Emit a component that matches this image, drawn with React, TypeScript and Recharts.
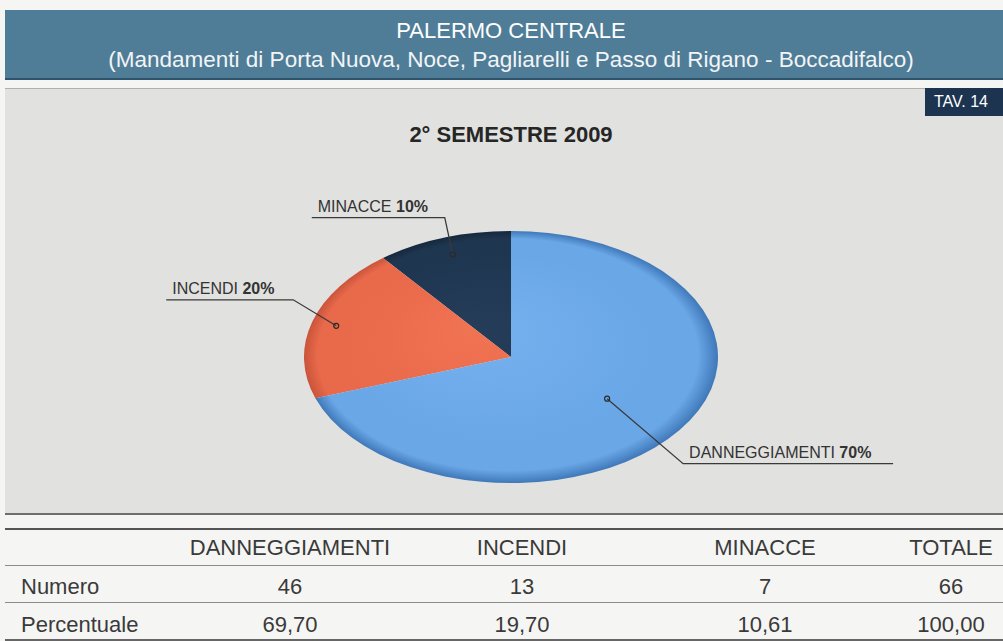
import { PieChart, Pie, Cell } from 'recharts'

const categories = ['MINACCE', 'INCENDI', 'DANNEGGIAMENTI']
const shares = [10.61, 19.7, 69.7]
const labelPercents = [10, 20, 70]

const tableColumns = ['DANNEGGIAMENTI', 'INCENDI', 'MINACCE', 'TOTALE']
const numero = ['46', '13', '7', '66']
const percentuale = ['69,70', '19,70', '10,61', '100,00']

// slice shading: inner, body, rim
const sliceShades = [
  ['#253d59', '#1f3651', '#15283d'],
  ['#f07352', '#e9694b', '#c9543a'],
  ['#76b1ef', '#6aa7e7', '#3f78b8'],
]

const CX = 511
const CY = 357
const RX = 207
const RY = 126
const K = RY / RX

// label layout per slice: dot depth, elbow offset from dot, underline length
const dotDepth = [0.86, 0.88, 0.57]
const elbowOffset = [[-8, -37], [-43, -26], [76, 65]]
const underlineLen = [-133, -127, 210]

const colCenters = [290, 522, 765, 951]
const rowCenters = [548, 587, 625]

const pieData = categories.map((name, i) => ({ name, value: shares[i] }))

function renderLabel(props: any) {
  const { cx, cy, midAngle, outerRadius, index } = props
  const a = (-midAngle * Math.PI) / 180
  const r = outerRadius * dotDepth[index]
  const dx = cx + r * Math.cos(a)
  const dy = cy + r * K * Math.sin(a)
  const ex = dx + elbowOffset[index][0]
  const ey = dy + elbowOffset[index][1]
  const lx = ex + underlineLen[index]
  const textX = Math.min(ex, lx) + 6
  return (
    <g>
      <polyline points={`${dx},${dy} ${ex},${ey} ${lx},${ey}`} fill="none" stroke="#3a3a3a" strokeWidth={1.3} />
      <circle cx={dx} cy={dy} r={2.5} fill="none" stroke="#2a2a2a" strokeWidth={1.2} />
      <text x={textX} y={ey - 6} fontSize={16} fill="#333" fontFamily="'Liberation Sans', Arial, sans-serif">
        {categories[index]} <tspan fontWeight="bold">{labelPercents[index]}%</tspan>
      </text>
    </g>
  )
}

const cellText = (text: string, cx: number, cy: number, key: string, align: 'center' | 'left' = 'center') => (
  <div
    key={key}
    style={{
      position: 'absolute',
      top: cy - 14,
      height: 28,
      lineHeight: '28px',
      left: align === 'center' ? cx - 150 : cx,
      width: align === 'center' ? 300 : 200,
      textAlign: align,
      fontSize: 22,
      color: '#3a3a3a',
    }}
  >
    {text}
  </div>
)

export default function App() {
  return (
    <div
      style={{
        position: 'absolute',
        left: 0,
        top: 0,
        width: 1003,
        height: 641,
        overflow: 'hidden',
        background: '#f5f5f3',
        fontFamily: "'Liberation Sans', Arial, sans-serif",
      }}
    >
      <style>{`.ellipse-pie .recharts-sector { transform-box: view-box; transform-origin: ${CX}px ${CY}px; transform: scaleY(${K}); }`}</style>

      {/* header band */}
      <div style={{ position: 'absolute', left: 5, top: 10, width: 998, height: 68, background: '#4f7d98', borderBottom: '2px solid #2e536c' }} />
      <div style={{ position: 'absolute', left: 0, width: 1022, top: 18, textAlign: 'center', color: '#fff', fontSize: 22 }}>
        PALERMO CENTRALE
      </div>
      <div style={{ position: 'absolute', left: 0, width: 1022, top: 47, textAlign: 'center', color: '#f2f4f6', fontSize: 22.5 }}>
        (Mandamenti di Porta Nuova, Noce, Pagliarelli e Passo di Rigano - Boccadifalco)
      </div>

      {/* chart panel */}
      <div style={{ position: 'absolute', left: 5, top: 88, width: 998, height: 424, background: '#e1e1df', borderTop: '1px solid #b0b0ae', borderBottom: '2px solid #6e6e6e' }} />
      <div style={{ position: 'absolute', left: 925, top: 88, width: 78, height: 28, background: '#1c3450', color: '#fff', fontSize: 16, lineHeight: '28px', paddingLeft: 9, boxSizing: 'border-box' }}>
        TAV. 14
      </div>
      <div style={{ position: 'absolute', left: 0, width: 1022, top: 122, textAlign: 'center', color: '#262626', fontSize: 22, fontWeight: 'bold' }}>
        2° SEMESTRE 2009
      </div>

      <div className="ellipse-pie" style={{ position: 'absolute', left: 0, top: 0 }}>
        <PieChart width={1003} height={641} margin={{ top: 0, right: 0, bottom: 0, left: 0 }}>
          <defs>
            {sliceShades.map((s, i) => (
              <radialGradient key={i} id={`slice${i}`} gradientUnits="userSpaceOnUse" cx={CX} cy={CY} r={RX} fx={CX - 40} fy={CY - 50}>
                <stop offset="0%" stopColor={s[0]} />
                <stop offset="75%" stopColor={s[1]} />
                <stop offset="92%" stopColor={s[1]} />
                <stop offset="100%" stopColor={s[2]} />
              </radialGradient>
            ))}
          </defs>
          <Pie
            data={pieData}
            dataKey="value"
            nameKey="name"
            cx={CX}
            cy={CY}
            outerRadius={RX}
            startAngle={90}
            endAngle={450}
            stroke="none"
            label={renderLabel}
            labelLine={false}
            isAnimationActive={false}
          >
            {pieData.map((_, i) => (
              <Cell key={i} fill={`url(#slice${i})`} />
            ))}
          </Pie>
        </PieChart>
      </div>

      {/* table */}
      <div style={{ position: 'absolute', left: 5, top: 528, width: 998, height: 2, background: '#555' }} />
      <div style={{ position: 'absolute', left: 5, top: 565, width: 998, height: 1, background: '#8a8a8a' }} />
      <div style={{ position: 'absolute', left: 5, top: 602, width: 998, height: 1, background: '#8a8a8a' }} />
      <div style={{ position: 'absolute', left: 5, top: 639, width: 998, height: 2, background: '#666' }} />

      {tableColumns.map((c, i) => cellText(c, colCenters[i], rowCenters[0], `h${i}`))}
      {cellText('Numero', 21, rowCenters[1], 'rn', 'left')}
      {numero.map((v, i) => cellText(v, colCenters[i], rowCenters[1], `n${i}`))}
      {cellText('Percentuale', 21, rowCenters[2], 'rp', 'left')}
      {percentuale.map((v, i) => cellText(v, colCenters[i], rowCenters[2], `p${i}`))}
    </div>
  )
}
